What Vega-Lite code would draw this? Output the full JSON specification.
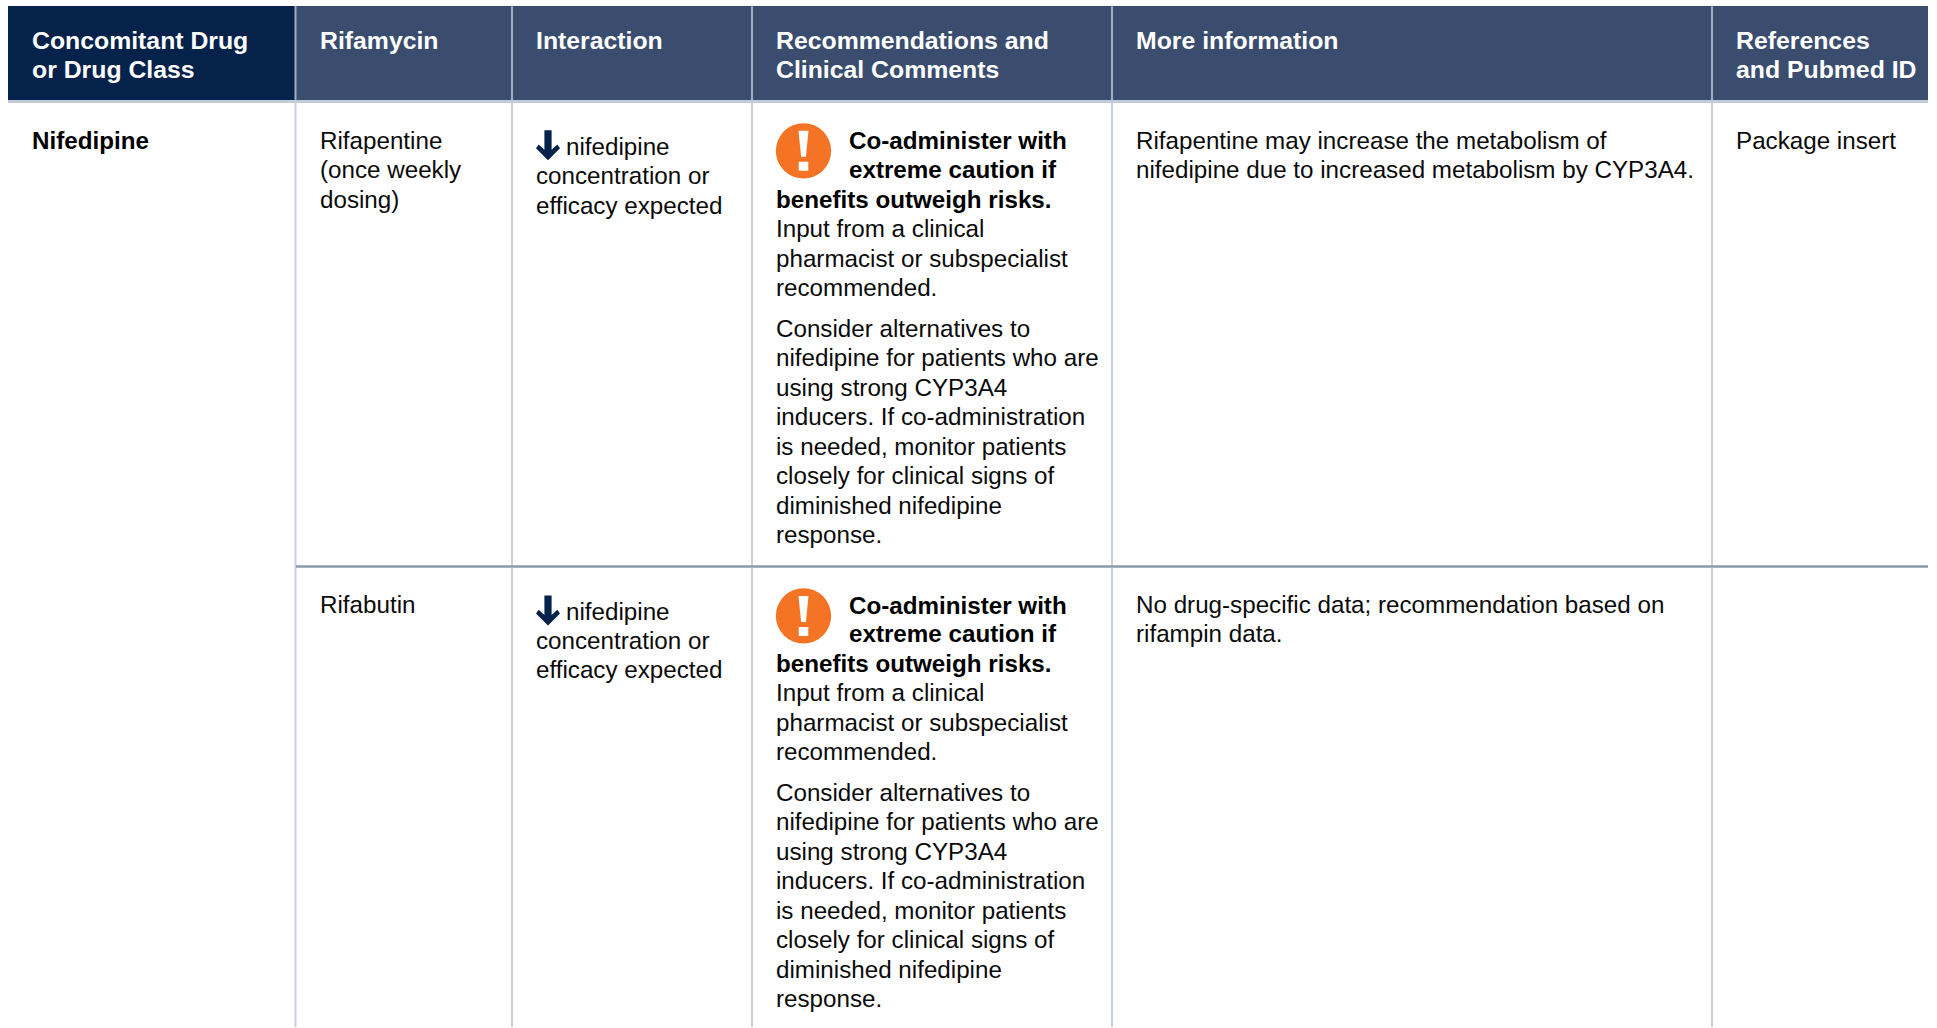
{
"$schema":"https://vega.github.io/schema/vega-lite/v6.json",
"width":1937,"height":1028,"padding":0,
"autosize":{"type":"fit","contains":"padding"},
"background":"white",
"config":{"view":{"stroke":null},"text":{"font":"Liberation Sans","fontSize":24.2,"align":"left","baseline":"alphabetic"}},
"datasets":{
"leadCell":[{"cell":"Concomitant Drug or Drug Class","left":8,"right":295,"top":6,"bottom":100}],
"headCells":[
{"cell":"Rifamycin","left":295,"right":512,"top":6,"bottom":100},
{"cell":"Interaction","left":512,"right":752,"top":6,"bottom":100},
{"cell":"Recommendations and Clinical Comments","left":752,"right":1112,"top":6,"bottom":100},
{"cell":"More information","left":1112,"right":1712,"top":6,"bottom":100},
{"cell":"References and Pubmed ID","left":1712,"right":1928,"top":6,"bottom":100}
],
"headRule":[{"cell":"Header rule","left":8,"right":1928,"top":100,"bottom":103}],
"headColumnRules":[
{"at":295.5,"from":6,"to":100},{"at":512,"from":6,"to":100},{"at":752,"from":6,"to":100},{"at":1112,"from":6,"to":100},{"at":1712,"from":6,"to":100}
],
"bodyColumnRules":[
{"at":295.5,"from":103,"to":1028},{"at":512,"from":103,"to":1028},{"at":752,"from":103,"to":1028},{"at":1112,"from":103,"to":1028},{"at":1712,"from":103,"to":1028}
],
"rowRules":[{"from":296,"to":1928,"at":567}],
"headerText":[
{"x":32,"y":49,"text":"Concomitant Drug"},{"x":32,"y":78,"text":"or Drug Class"},
{"x":320,"y":49,"text":"Rifamycin"},
{"x":536,"y":49,"text":"Interaction"},
{"x":776,"y":49,"text":"Recommendations and"},{"x":776,"y":78,"text":"Clinical Comments"},
{"x":1136,"y":49,"text":"More information"},
{"x":1736,"y":49,"text":"References"},{"x":1736,"y":78,"text":"and Pubmed ID"}
],
"boldText":[
{"x":32,"y":149,"text":"Nifedipine"},
{"x":849,"y":149,"text":"Co-administer with"},{"x":849,"y":178,"text":"extreme caution if"},{"x":776,"y":208,"text":"benefits outweigh risks."},
{"x":849,"y":614.5,"text":"Co-administer with"},{"x":849,"y":643,"text":"extreme caution if"},{"x":776,"y":672.5,"text":"benefits outweigh risks."}
],
"bodyText":[
{"x":320,"y":149,"text":"Rifapentine"},{"x":320,"y":178.5,"text":"(once weekly"},{"x":320,"y":208,"text":"dosing)"},
{"x":566,"y":155,"text":"nifedipine"},{"x":536,"y":184.5,"text":"concentration or"},{"x":536,"y":214,"text":"efficacy expected"},
{"x":776,"y":237.5,"text":"Input from a clinical"},{"x":776,"y":267,"text":"pharmacist or subspecialist"},{"x":776,"y":296.5,"text":"recommended."},
{"x":776,"y":337,"text":"Consider alternatives to"},{"x":776,"y":366.5,"text":"nifedipine for patients who are"},{"x":776,"y":396,"text":"using strong CYP3A4"},{"x":776,"y":425.5,"text":"inducers. If co-administration"},{"x":776,"y":455,"text":"is needed, monitor patients"},{"x":776,"y":484.5,"text":"closely for clinical signs of"},{"x":776,"y":514,"text":"diminished nifedipine"},{"x":776,"y":543.5,"text":"response."},
{"x":1136,"y":149,"text":"Rifapentine may increase the metabolism of"},{"x":1136,"y":178.5,"text":"nifedipine due to increased metabolism by CYP3A4."},
{"x":1736,"y":149,"text":"Package insert"},
{"x":320,"y":614,"text":"Rifabutin"},
{"x":566,"y":620.5,"text":"nifedipine"},{"x":536,"y":649.5,"text":"concentration or"},{"x":536,"y":679,"text":"efficacy expected"},
{"x":776,"y":702,"text":"Input from a clinical"},{"x":776,"y":731.5,"text":"pharmacist or subspecialist"},{"x":776,"y":761,"text":"recommended."},
{"x":776,"y":801.5,"text":"Consider alternatives to"},{"x":776,"y":831,"text":"nifedipine for patients who are"},{"x":776,"y":860.5,"text":"using strong CYP3A4"},{"x":776,"y":890,"text":"inducers. If co-administration"},{"x":776,"y":919.5,"text":"is needed, monitor patients"},{"x":776,"y":949,"text":"closely for clinical signs of"},{"x":776,"y":978.5,"text":"diminished nifedipine"},{"x":776,"y":1008,"text":"response."},
{"x":1136,"y":614,"text":"No drug-specific data; recommendation based on"},{"x":1136,"y":643,"text":"rifampin data."}
],
"arrows":[{"x":548,"y":145.5},{"x":548,"y":611}],
"warnings":[{"x":803.5,"y":151},{"x":803.5,"y":616.5}]
},
"layer":[
{"data":{"name":"leadCell"},"mark":{"type":"rect","color":"#05224b"},
 "encoding":{
 "x":{"field":"left","type":"quantitative","scale":{"domain":[0,1937],"nice":false,"zero":false},"axis":null},
 "x2":{"field":"right"},
 "y":{"field":"top","type":"quantitative","scale":{"domain":[1028,0],"nice":false,"zero":false},"axis":null},
 "y2":{"field":"bottom"}}},
{"data":{"name":"headCells"},"mark":{"type":"rect","color":"#3a4d6e"},
 "encoding":{"x":{"field":"left","type":"quantitative"},"x2":{"field":"right"},"y":{"field":"top","type":"quantitative"},"y2":{"field":"bottom"}}},
{"data":{"name":"headRule"},"mark":{"type":"rect","color":"#c3cad8"},
 "encoding":{"x":{"field":"left","type":"quantitative"},"x2":{"field":"right"},"y":{"field":"top","type":"quantitative"},"y2":{"field":"bottom"}}},
{"data":{"name":"headColumnRules"},"mark":{"type":"rule","strokeWidth":2,"color":"#a3aebf"},
 "encoding":{"x":{"field":"at","type":"quantitative"},"y":{"field":"from","type":"quantitative"},"y2":{"field":"to"}}},
{"data":{"name":"bodyColumnRules"},"mark":{"type":"rule","strokeWidth":2,"color":"#c8cedb"},
 "encoding":{"x":{"field":"at","type":"quantitative"},"y":{"field":"from","type":"quantitative"},"y2":{"field":"to"}}},
{"data":{"name":"rowRules"},"mark":{"type":"rule","strokeWidth":2.4,"color":"#8a98ac"},
 "encoding":{"x":{"field":"from","type":"quantitative"},"x2":{"field":"to"},"y":{"field":"at","type":"quantitative"}}},
{"data":{"name":"warnings"},"mark":{"type":"point","filled":true,"shape":"circle","size":3060,"color":"#f47324","opacity":1},
 "encoding":{"x":{"field":"x","type":"quantitative"},"y":{"field":"y","type":"quantitative"}}},
{"data":{"name":"warnings"},"mark":{"type":"point","filled":true,"size":1600,"color":"white","opacity":1,"shape":"M-0.25,-1L0.25,-1L0.12,0.3L-0.12,0.3ZM-0.24,0.55L0.24,0.55L0.24,1L-0.24,1Z"},
 "encoding":{"x":{"field":"x","type":"quantitative"},"y":{"field":"y","type":"quantitative"}}},
{"data":{"name":"arrows"},"mark":{"type":"point","filled":true,"size":900,"color":"#05224b","opacity":1,"shape":"M-0.24,-1L0.24,-1L0.24,0.3L0.62,-0.05L0.8,0.2L0,1L-0.8,0.2L-0.62,-0.05L-0.24,0.3Z"},
 "encoding":{"x":{"field":"x","type":"quantitative"},"y":{"field":"y","type":"quantitative"}}},
{"data":{"name":"headerText"},"mark":{"type":"text","fontWeight":"bold","color":"#ffffff","fontSize":24.8},
 "encoding":{"x":{"field":"x","type":"quantitative"},"y":{"field":"y","type":"quantitative"},"text":{"field":"text"}}},
{"data":{"name":"boldText"},"mark":{"type":"text","fontWeight":"bold","color":"#000000","fontSize":24.2},
 "encoding":{"x":{"field":"x","type":"quantitative"},"y":{"field":"y","type":"quantitative"},"text":{"field":"text"}}},
{"data":{"name":"bodyText"},"mark":{"type":"text","color":"#0a0a0a"},
 "encoding":{"x":{"field":"x","type":"quantitative"},"y":{"field":"y","type":"quantitative"},"text":{"field":"text"}}}
]
}
